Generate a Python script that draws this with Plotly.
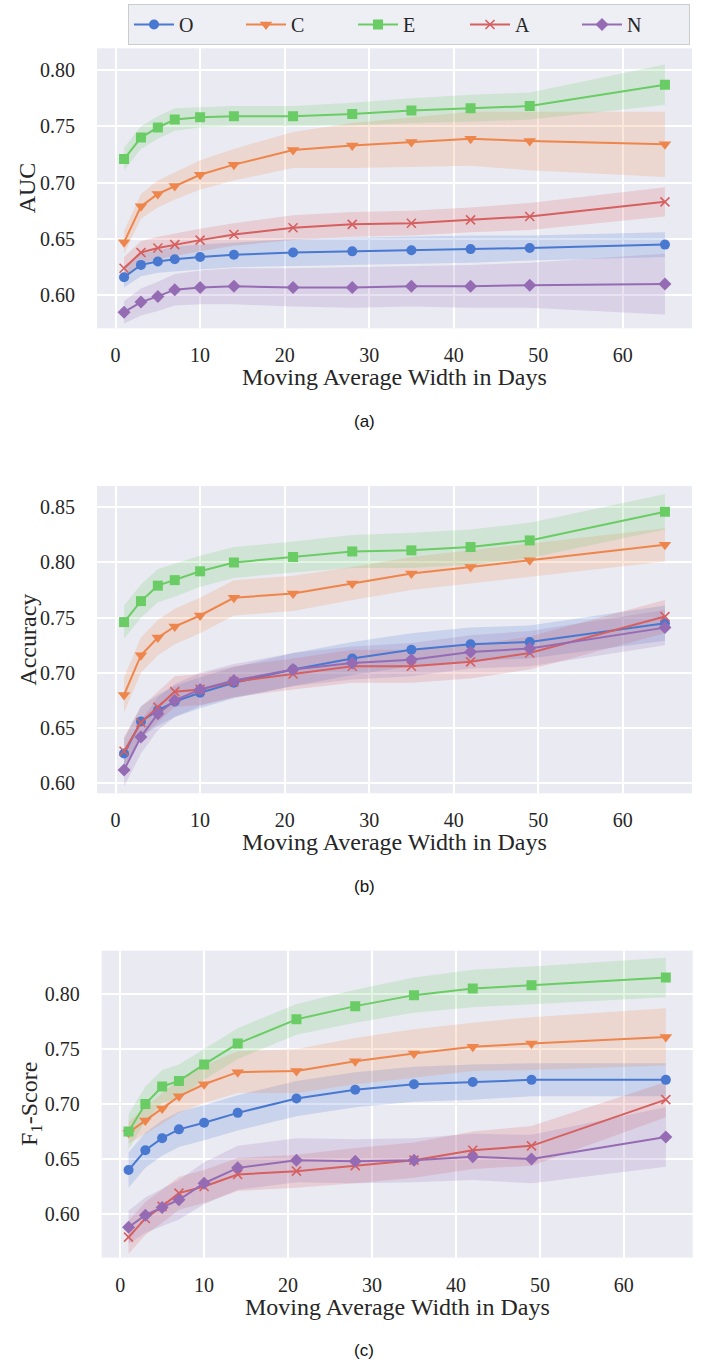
import plotly.graph_objects as go

# ---------------- data ----------------
days = [1, 3, 5, 7, 10, 14, 21, 28, 35, 42, 49, 65]
traits = ["O", "C", "E", "A", "N"]

# AUC means
auc_O = [0.616, 0.627, 0.630, 0.632, 0.634, 0.636, 0.638, 0.639, 0.640, 0.641, 0.642, 0.645]
auc_C = [0.647, 0.679, 0.690, 0.697, 0.707, 0.716, 0.729, 0.733, 0.736, 0.739, 0.737, 0.734]
auc_E = [0.721, 0.740, 0.749, 0.756, 0.758, 0.759, 0.759, 0.761, 0.764, 0.766, 0.768, 0.787]
auc_A = [0.624, 0.638, 0.642, 0.645, 0.649, 0.654, 0.660, 0.663, 0.664, 0.667, 0.670, 0.683]
auc_N = [0.585, 0.594, 0.599, 0.605, 0.607, 0.608, 0.607, 0.607, 0.608, 0.608, 0.609, 0.610]
# AUC band half-widths
auc_O_ci = [0.009, 0.010, 0.010, 0.011, 0.011, 0.011, 0.012, 0.012, 0.012, 0.012, 0.011, 0.011]
auc_C_ci = [0.010, 0.011, 0.012, 0.012, 0.013, 0.014, 0.016, 0.020, 0.022, 0.024, 0.026, 0.029]
auc_E_ci = [0.010, 0.010, 0.010, 0.010, 0.009, 0.009, 0.009, 0.010, 0.011, 0.012, 0.012, 0.018]
auc_A_ci = [0.010, 0.010, 0.010, 0.010, 0.010, 0.010, 0.011, 0.011, 0.011, 0.011, 0.012, 0.013]
auc_N_ci = [0.010, 0.012, 0.013, 0.014, 0.015, 0.016, 0.017, 0.018, 0.018, 0.019, 0.020, 0.027]

# Accuracy means
acc_O = [0.627, 0.656, 0.666, 0.674, 0.682, 0.691, 0.703, 0.713, 0.721, 0.726, 0.728, 0.745]
acc_C = [0.680, 0.716, 0.732, 0.742, 0.752, 0.768, 0.772, 0.781, 0.790, 0.796, 0.802, 0.816]
acc_E = [0.746, 0.765, 0.779, 0.784, 0.792, 0.800, 0.805, 0.810, 0.811, 0.814, 0.820, 0.846]
acc_A = [0.629, 0.655, 0.669, 0.683, 0.685, 0.692, 0.699, 0.706, 0.706, 0.710, 0.718, 0.751]
acc_N = [0.612, 0.642, 0.663, 0.675, 0.685, 0.693, 0.703, 0.709, 0.712, 0.719, 0.722, 0.741]
acc_O_ci = [0.013, 0.014, 0.014, 0.014, 0.014, 0.014, 0.015, 0.015, 0.015, 0.015, 0.015, 0.016]
acc_C_ci = [0.016, 0.016, 0.016, 0.016, 0.016, 0.016, 0.016, 0.015, 0.015, 0.015, 0.015, 0.015]
acc_E_ci = [0.015, 0.015, 0.015, 0.015, 0.014, 0.014, 0.014, 0.015, 0.016, 0.016, 0.016, 0.016]
acc_A_ci = [0.013, 0.014, 0.014, 0.014, 0.014, 0.014, 0.014, 0.015, 0.015, 0.015, 0.015, 0.015]
acc_N_ci = [0.015, 0.015, 0.015, 0.015, 0.015, 0.015, 0.015, 0.015, 0.015, 0.015, 0.016, 0.016]

# F1 means
f1_O = [0.640, 0.658, 0.669, 0.677, 0.683, 0.692, 0.705, 0.713, 0.718, 0.720, 0.722, 0.722]
f1_C = [0.674, 0.685, 0.696, 0.707, 0.718, 0.729, 0.730, 0.739, 0.746, 0.752, 0.755, 0.761]
f1_E = [0.675, 0.700, 0.716, 0.721, 0.736, 0.755, 0.777, 0.789, 0.799, 0.805, 0.808, 0.815]
f1_A = [0.579, 0.596, 0.607, 0.619, 0.625, 0.636, 0.639, 0.644, 0.649, 0.658, 0.662, 0.704]
f1_N = [0.588, 0.599, 0.606, 0.613, 0.628, 0.642, 0.649, 0.648, 0.649, 0.652, 0.650, 0.670]
f1_O_ci = [0.016, 0.016, 0.016, 0.016, 0.016, 0.016, 0.016, 0.016, 0.016, 0.016, 0.015, 0.015]
f1_C_ci = [0.010, 0.012, 0.014, 0.015, 0.017, 0.019, 0.020, 0.021, 0.022, 0.022, 0.024, 0.026]
f1_E_ci = [0.016, 0.016, 0.015, 0.015, 0.014, 0.014, 0.014, 0.015, 0.016, 0.017, 0.017, 0.018]
f1_A_ci = [0.015, 0.015, 0.015, 0.015, 0.015, 0.015, 0.015, 0.016, 0.016, 0.017, 0.018, 0.016]
f1_N_ci = [0.015, 0.016, 0.017, 0.018, 0.019, 0.020, 0.020, 0.020, 0.020, 0.021, 0.022, 0.027]

y_ticks_auc = [0.60, 0.65, 0.70, 0.75, 0.80]
y_ticks_acc = [0.60, 0.65, 0.70, 0.75, 0.80, 0.85]
y_ticks_f1 = [0.60, 0.65, 0.70, 0.75, 0.80]
x_ticks = [0, 10, 20, 30, 40, 50, 60]

# ---------------- style ----------------
W, H = 704, 1366
colors = {"O": "#4878D0", "C": "#EE854A", "E": "#6ACC64", "A": "#D65F5F", "N": "#956CB4"}
fills = {"O": "rgba(72,120,208,0.2)", "C": "rgba(238,133,74,0.2)", "E": "rgba(106,204,100,0.2)",
         "A": "rgba(214,95,95,0.2)", "N": "rgba(149,108,180,0.2)"}
symbols = {"O": "circle", "C": "triangle-down", "E": "square", "A": "x-thin", "N": "diamond"}
msizes = {"O": 10, "C": 11, "E": 10, "A": 9, "N": 10}
SERIF = "Liberation Serif"
SANS = "Liberation Sans"
INK = "#262626"

panels = [
    dict(means={"O": auc_O, "C": auc_C, "E": auc_E, "A": auc_A, "N": auc_N},
         cis={"O": auc_O_ci, "C": auc_C_ci, "E": auc_E_ci, "A": auc_A_ci, "N": auc_N_ci},
         yticks=y_ticks_auc, yrange=[0.5707, 0.8193], ylabel="AUC", caption="(a)",
         px=(97, 692), py=(48.3, 328.3), ylab_x=27),
    dict(means={"O": acc_O, "C": acc_C, "E": acc_E, "A": acc_A, "N": acc_N},
         cis={"O": acc_O_ci, "C": acc_C_ci, "E": acc_E_ci, "A": acc_A_ci, "N": acc_N_ci},
         yticks=y_ticks_acc, yrange=[0.5909, 0.8693], ylabel="Accuracy", caption="(b)",
         px=(97, 692), py=(486, 793.3), ylab_x=28),
    dict(means={"O": f1_O, "C": f1_C, "E": f1_E, "A": f1_A, "N": f1_N},
         cis={"O": f1_O_ci, "C": f1_C_ci, "E": f1_E_ci, "A": f1_A_ci, "N": f1_N_ci},
         yticks=y_ticks_f1, yrange=[0.5605, 0.8394], ylabel="F<sub>1</sub>-Score", caption="(c)",
         px=(101.7, 692.7), py=(950.7, 1257.5), ylab_x=31),
]

fig = go.Figure()
annotations = []
layout_axes = {}

for i, p in enumerate(panels):
    n = "" if i == 0 else str(i + 1)
    xa, ya = "x" + n, "y" + n
    # confidence bands first (beneath every line)
    for t in traits:
        m, c = p["means"][t], p["cis"][t]
        upper = [a + b for a, b in zip(m, c)]
        lower = [a - b for a, b in zip(m, c)]
        fig.add_trace(go.Scatter(
            x=days + days[::-1], y=upper + lower[::-1], fill="toself",
            fillcolor=fills[t], line=dict(width=0), mode="lines",
            hoverinfo="skip", showlegend=False, xaxis=xa, yaxis=ya))
    for t in traits:
        m = p["means"][t]
        mk = dict(symbol=symbols[t], size=msizes[t], color=colors[t])
        if t == "A":
            mk["line"] = dict(color=colors[t], width=1.6)
        else:
            mk["line"] = dict(width=0)
        fig.add_trace(go.Scatter(
            x=days, y=m, mode="lines+markers", name=t,
            line=dict(color=colors[t], width=2), marker=mk,
            showlegend=(i == 0), xaxis=xa, yaxis=ya))

    x0, x1 = p["px"]
    yt, yb = p["py"]
    layout_axes["xaxis" + n] = dict(
        domain=[x0 / W, x1 / W], anchor=ya, range=[-2.2, 68.2], automargin=False,
        tickvals=x_ticks, ticktext=[str(v) for v in x_ticks],
        showgrid=True, gridcolor="white", gridwidth=1.5, zeroline=False,
        showline=False, ticks="outside", ticklen=9, tickcolor="rgba(0,0,0,0)",
        tickfont=dict(family=SERIF, size=20, color=INK))
    layout_axes["yaxis" + n] = dict(
        domain=[1 - yb / H, 1 - yt / H], anchor=xa, range=p["yrange"], automargin=False,
        tickvals=p["yticks"], ticktext=["%.2f" % v for v in p["yticks"]],
        showgrid=True, gridcolor="white", gridwidth=1.5, zeroline=False,
        showline=False, ticks="outside", ticklen=17, tickcolor="rgba(0,0,0,0)",
        tickfont=dict(family=SERIF, size=20, color=INK))

    # x-axis title
    annotations.append(dict(
        text="Moving Average Width in Days", x=(x0 + x1) / 2 / W, y=1 - (yb + 49) / H,
        xref="paper", yref="paper", xanchor="center", yanchor="middle",
        showarrow=False, font=dict(family=SERIF, size=24, color=INK)))
    # y-axis title
    annotations.append(dict(
        text=p["ylabel"], x=p["ylab_x"] / W, y=1 - (yt + yb) / 2 / H,
        xref="paper", yref="paper", xanchor="center", yanchor="middle", textangle=-90,
        showarrow=False, font=dict(family=SERIF, size=24, color=INK)))
    # caption
    annotations.append(dict(
        text=p["caption"], x=364 / W, y=1 - (yb + 93) / H,
        xref="paper", yref="paper", xanchor="center", yanchor="middle",
        showarrow=False, font=dict(family=SANS, size=17, color="#111111")))

fig.update_layout(
    width=W, height=H, margin=dict(l=0, r=0, t=0, b=0, autoexpand=False),
    paper_bgcolor="white", plot_bgcolor="#EAEAF2",
    showlegend=True,
    legend=dict(orientation="h", x=128 / W, y=1 - 4 / H, xanchor="left", yanchor="top",
                bgcolor="rgba(234,234,242,0.8)", bordercolor="#cccccc", borderwidth=1,
                font=dict(family=SERIF, size=20, color=INK),
                entrywidth=57, entrywidthmode="pixels", itemwidth=40),
    annotations=annotations,
    **layout_axes,
)

fig.write_html("out.html", config={"displayModeBar": False},
               post_script="document.body.style.margin='0px';document.body.style.padding='0px';")
